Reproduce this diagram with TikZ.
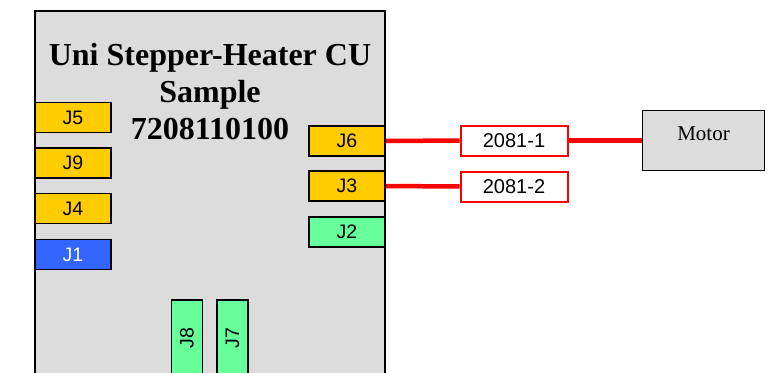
\documentclass[tikz,border=0pt]{standalone}
\usepackage{fontspec}
\setmainfont{Liberation Serif}
\newfontfamily\labfont{Liberation Sans}
\definecolor{boardgray}{HTML}{DCDCDC}
\definecolor{connyellow}{HTML}{FFCC00}
\definecolor{conngreen}{HTML}{66FF99}
\definecolor{connblue}{HTML}{3366FF}
\definecolor{wirered}{HTML}{FF0000}
\begin{document}
\begin{tikzpicture}[x=1pt,y=-1pt,
  conn/.style={draw=black, line width=1.8pt, rectangle, inner sep=0pt,
    minimum width=76pt, minimum height=30pt, font=\labfont\fontsize{19.5}{20}\selectfont},
  yconn/.style={conn, fill=connyellow},
  gconn/.style={conn, fill=conngreen},
  bconn/.style={conn, fill=connblue, text=white},
  vconn/.style={draw=black, line width=1.8pt, rectangle, inner sep=0pt, fill=conngreen,
    minimum width=76pt, minimum height=31pt, rotate=90, font=\labfont\fontsize{19.5}{20}\selectfont},
  cable/.style={draw=wirered, line width=2pt, fill=white, rectangle, inner sep=0pt,
    minimum width=107pt, minimum height=30pt, font=\labfont\fontsize{20}{20}\selectfont},
  wire/.style={draw=wirered, line width=4.5pt},
  devbox/.style={draw=black, line width=1.8pt, fill=boardgray, rectangle, inner sep=0pt,
    minimum width=122pt, minimum height=60pt, font=\fontsize{21}{21}\selectfont,
    text height=14pt, text depth=15pt}
]
\useasboundingbox (0,0) rectangle (770,372);
\clip (0,0) rectangle (770,372);
% board
\draw[line width=1.8pt, fill=boardgray] (35,11) rectangle (385,390);
\node[font=\bfseries\fontsize{32}{37}\selectfont, align=center, anchor=center] (title) at (210,92)
  {Uni Stepper-Heater CU\\Sample\\7208110100};
% left connectors
\node[yconn] (J5) at (73,117.5) {J5};
\node[yconn] (J9) at (73,163) {J9};
\node[yconn] (J4) at (73,208.5) {J4};
\node[bconn] (J1) at (73,254.5) {J1};
% right connectors
\node[yconn] (J6) at (347,141) {J6};
\node[yconn] (J3) at (347,186) {J3};
\node[gconn] (J2) at (347,232) {J2};
% bottom connectors
\node[vconn] (J8) at (187,338) {J8};
\node[vconn] (J7) at (232.5,338) {J7};
% cables
\node[cable] (c1) at (514,140.5) {2081-1};
\node[cable] (c2) at (514,186.5) {2081-2};
% motor
\node[devbox] (motor) at (703.5,140.5) {Motor};
% wires
\draw[wire] (J6.east) -- (c1.west);
\draw[wire] (c1.east) -- (motor.west);
\draw[wire] (J3.east) -- (c2.west);
\end{tikzpicture}
\end{document}
